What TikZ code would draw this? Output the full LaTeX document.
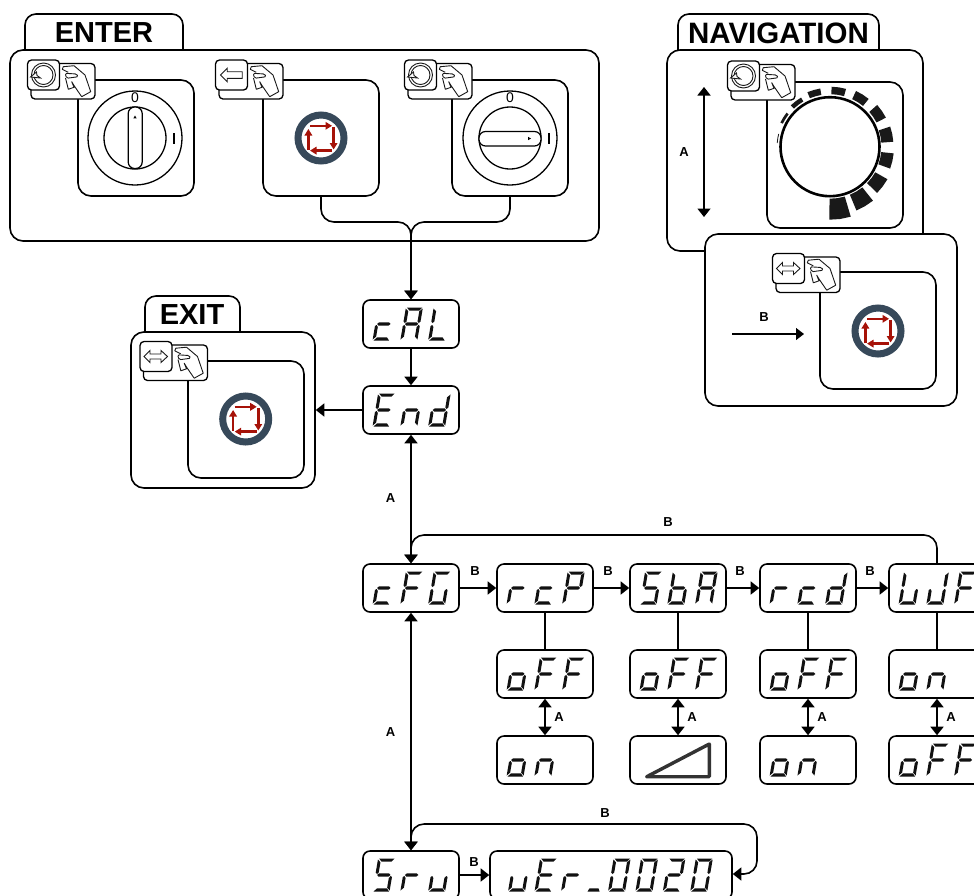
\documentclass[tikz,border=0pt]{standalone}
\usepackage{fontspec}
\setmainfont{Liberation Sans}
\usetikzlibrary{arrows.meta}
\definecolor{ringc}{HTML}{37495A}
\definecolor{redc}{HTML}{A61208}
\definecolor{segc}{HTML}{111111}
\tikzset{
  x=1pt,y=-1pt,
  ln/.style={line width=1.6pt,draw=black},
  panel/.style={ln,fill=white,rounded corners=13pt,inner sep=0pt},
  tabshape/.style={ln,fill=white},
  sub/.style={panel},
  disp/.style={ln,fill=white,rounded corners=7pt,inner sep=0pt,minimum width=96pt,minimum height=48pt,text opacity=0,font=\fontsize{8}{8}\selectfont},
  lab/.style={font=\bfseries\fontsize{13}{13}\selectfont,inner sep=0pt},
  ttl/.style={font=\bfseries\fontsize{29}{29}\selectfont,inner sep=0pt},
  tip/.style={-{Triangle[width=13pt,length=8.5pt]}},
  tips/.style={{Triangle[width=13pt,length=8.5pt]}-{Triangle[width=13pt,length=8.5pt]}},
  conn/.style={ln,rounded corners=13pt},
  thinl/.style={line width=0.9pt,draw=black!90},
}
% seven-segment parts in local (x, -up) coordinates
\def\sga{(1,-33)--(16.5,-33)--(14,-29.9)--(4,-29.9)--cycle}
\def\sgb{(17,-32)--(17,-19)--(15.5,-17.5)--(14,-19)--(14,-29.2)--cycle}
\def\sgc{(17,-14.5)--(17,-1)--(14,-3.9)--(14,-13.5)--(15.5,-15.5)--cycle}
\def\sgd{(1,0)--(16.5,0)--(14,-3.1)--(4,-3.1)--cycle}
\def\sge{(0,-14.5)--(0,-1)--(3,-3.9)--(3,-13.5)--(1.5,-15.5)--cycle}
\def\sgf{(0,-32)--(0,-19)--(1.5,-17.5)--(3,-19)--(3,-29.2)--cycle}
\def\sgg{(1.8,-16.5)--(3.5,-18.1)--(13.5,-18.1)--(15.2,-16.5)--(13.5,-14.9)--(3.5,-14.9)--cycle}
\def\sgh{(0,0)--(12,0)--(10.5,-3.1)--(1.5,-3.1)--cycle}
% characters
\def\chc{d,e,g}\def\chA{a,b,c,e,f,g}\def\chL{d,e,f}\def\chE{a,d,e,f,g}\def\chn{c,e,g}
\def\chd{b,c,d,e,g}\def\chF{a,e,f,g}\def\chG{a,c,d,e,f}\def\chr{e,g}\def\chP{a,b,e,f,g}
\def\chS{a,c,d,f,g}\def\chb{c,d,e,f,g}\def\cho{c,d,e,g}\def\chW{c,d,e,f}\def\chJ{b,c,d,e}
\def\chu{c,d,e}\def\chZ{a,b,c,d,e,f}\def\chT{a,b,d,e,g}\def\chl{h}
\newcommand\drawglyph[3]{%
  \begin{scope}[shift={(#1,#2)},xslant=0.17]
    \edef\seglist{\csname ch#3\endcsname}%
    \foreach \s in \seglist {\fill[segc] \csname sg\s\endcsname;}
  \end{scope}}
% #1 start x, #2 baseline y, #3 step, #4 chars
\newcommand\glyphs[4]{%
  \foreach \c [count=\i from 0] in {#4} {%
    \pgfmathsetmacro\px{#1+\i*#3}%
    \drawglyph{\px}{#2}{\c}%
  }}
% display box: name, left, top, text, glyphs
\newcommand\disp[5]{%
  \node[disp] (#1) at (#2+48,#3+24) {#4};
  \ifx\relax#5\relax\else\glyphs{#2+9.5}{#3+40.5}{27.8}{#5}\fi}
% status icon
\newcommand\status[2]{%
  \begin{scope}[shift={(#1,#2)}]
    \draw[ringc,line width=7pt] (0,0) circle[radius=23pt];
    \begin{scope}[redc,line width=2.5pt,-{Triangle[width=7.5pt,length=6.5pt]}]
      \draw (-11,-12.2) -- (11,-12.2);
      \draw (12.6,-11) -- (12.6,11.5);
      \draw (11,12.6) -- (-11,12.6);
      \draw (-12.6,11.5) -- (-12.6,-9);
    \end{scope}
  \end{scope}}
% hand + button icon: #1 #2 top-left of the back plate, #3 symbol
\newcommand\rotsym{%
  \draw[thinl] (16,15) circle[radius=12pt];
  \draw[thinl] (16,15) circle[radius=9.5pt];
  \draw[thinl,fill=white] (3,17) -- (9,12) -- (9.5,15.5) -- (13,18) -- cycle;}
\newcommand\leftsym{%
  \draw[thinl] (5,15) -- (11.7,8.3) -- (11.7,11.7) -- (26.7,11.7) -- (26.7,18.3) -- (11.7,18.3) -- (11.7,21.7) -- cycle;}
\newcommand\bothsym{%
  \draw[thinl] (4,15) -- (10,9) -- (10,12.5) -- (21,12.5) -- (21,9) -- (27.5,15) -- (21,21) -- (21,17.5) -- (10,17.5) -- (10,21) -- cycle;}
\newcommand\handicon[3]{%
  \begin{scope}[shift={(#1,#2)}]
    \draw[line width=1.3pt,fill=white,rounded corners=4pt] (0,0) rectangle (64,35.5);
    \draw[thinl,line join=round] (50.7,33.2) -- (59.7,28.2) -- (54,11.5) -- (43,2.2) -- (32.3,3.2) -- (31.3,5.8) -- (37.3,8.8);
    \draw[thinl,line join=round,rounded corners=1.5pt] (34,9.8) -- (45.7,10.5) -- (47.3,13.2) -- (35.7,14.8) -- cycle;
    \draw[thinl,line join=round] (34.5,14.5) -- (37.3,25.8) -- (43,23.8) -- (40.7,18.2) -- (43,22) -- (50.7,33.2);
    \begin{scope}[shift={(-3.5,-3.5)}]
      \draw[line width=1.3pt,fill=white,rounded corners=4pt] (0,0) rectangle (32,30);
      #3
    \end{scope}
  \end{scope}}
% dial
\newcommand\dialbase[2]{%
  \draw[ln,line width=1.3pt] (#1,#2) circle[radius=47pt];
  \draw[ln,line width=1.3pt] (#1,#2) circle[radius=31pt];
  \node[inner sep=0pt,font=\fontsize{14}{14}\selectfont,fill=white] at (#1,#2-40) {0};
  \fill (#1+38.2,#2-5.5) rectangle (#1+39.8,#2+5.5);}
% gauge segment: mid angle, half width, inner radius, outer radius
\newcommand\gseg[4]{%
  \fill[black!90] ({830+#3*cos(#1-#2)},{146.7-#3*sin(#1-#2)})
    -- ({830+#3*cos(#1)},{146.7-#3*sin(#1)})
    -- ({830+#3*cos(#1+#2)},{146.7-#3*sin(#1+#2)})
    -- ({830+#4*cos(#1+#2)},{146.7-#4*sin(#1+#2)})
    -- ({830+#4*cos(#1)},{146.7-#4*sin(#1)})
    -- ({830+#4*cos(#1-#2)},{146.7-#4*sin(#1-#2)}) -- cycle;}
\begin{document}
\begin{tikzpicture}
\useasboundingbox (0,0) rectangle (974,895);
\clip (0,0) rectangle (974,895);
\fill[white] (0,0) rectangle (974,895);

% ---------- ENTER
\draw[tabshape,rounded corners=11pt] (25,52) -- (25,14) -- (183,14) -- (183,52);
\node[panel,minimum width=589pt,minimum height=191pt] (enter) at (304.5,145.5) {};
\node[ttl] (entertitle) at (104,33) {ENTER};
\node[sub,minimum width=116pt,minimum height=116pt] (e1) at (136,138) {};
\node[sub,minimum width=116pt,minimum height=116pt] (e2) at (321,138) {};
\node[sub,minimum width=116pt,minimum height=116pt] (e3) at (510,138) {};
\dialbase{135}{138}
\draw[ln,line width=1.2pt,fill=white,rounded corners=6.5pt] (128.2,107) rectangle (142.2,168.5);
\fill (135,115.5) -- (136.6,118.3) -- (133.4,118.3) -- cycle;
\status{321}{138}
\dialbase{510}{138}
\draw[ln,line width=1.2pt,fill=white,rounded corners=6.5pt] (479,131.5) rectangle (541,146);
\fill (531,138.5) -- (528.2,136.9) -- (528.2,140.1) -- cycle;
\handicon{31}{63.5}{\rotsym}
\handicon{219}{63.5}{\leftsym}
\handicon{408}{63.5}{\rotsym}

% ---------- NAVIGATION
\draw[tabshape,rounded corners=11pt] (678,52) -- (678,14) -- (879,14) -- (879,52);
\node[panel,minimum width=256pt,minimum height=201pt] (nav) at (795,150.5) {};
\node[ttl,font=\bfseries\fontsize{29.5}{29.5}\selectfont] (navtitle) at (778.5,33) {NAVIGATION};
\node[sub,minimum width=136pt,minimum height=146pt] (navsub) at (835,155) {};
\coordinate (atop) at (704,87);
\coordinate (abot) at (704,217);
\draw[ln,tips] (atop) -- (abot);
\node[lab] (la0) at (684,152) {A};
\draw[line width=2.6pt] (830,146.7) circle[radius=49.5pt];
\gseg{171}{5}{52.5}{53.3}
\gseg{148}{6}{52.5}{55.2}
\gseg{127}{6.5}{52.5}{57}
\gseg{106}{6.5}{52.5}{59}
\gseg{81.5}{7}{52.5}{60}
\gseg{58}{7}{52.5}{61.5}
\gseg{34.5}{7}{52.5}{63}
\gseg{11.5}{7}{51.5}{63.5}
\gseg{-13}{7}{51.5}{64}
\gseg{-37}{7.5}{52}{66}
\gseg{-59.5}{8}{52}{69}
\gseg{-82}{8.5}{52}{73}
\handicon{731}{64.5}{\rotsym}

\node[panel,minimum width=252pt,minimum height=172pt] (navb) at (831,320) {};
\node[sub,minimum width=116pt,minimum height=117pt] (bsub) at (878,330.5) {};
\status{878}{331}
\handicon{776}{257}{\bothsym}
\coordinate (bl) at (732,334);
\coordinate (br) at (804,334);
\draw[ln,line width=1.2pt,-{Triangle[width=12pt,length=8pt]}] (bl) -- (br);
\node[lab] (lb0) at (764,317) {B};

% ---------- EXIT
\draw[tabshape,rounded corners=11pt] (145,334) -- (145,296) -- (240,296) -- (240,334);
\node[panel,minimum width=184pt,minimum height=156pt] (exit) at (223,410) {};
\node[ttl] (exittitle) at (192,315) {EXIT};
\node[sub,minimum width=116pt,minimum height=117pt] (exitsub) at (246,419.5) {};
\status{245.7}{419}
\handicon{143.5}{345}{\bothsym}

% ---------- displays
\disp{cal}{363}{300}{cAL}{c,A,L}
\disp{end}{363}{386}{End}{E,n,d}
\disp{cfg}{363}{564}{cFG}{c,F,G}
\disp{rcp}{497}{564}{rcP}{r,c,P}
\disp{sba}{630}{564}{SbA}{S,b,A}
\disp{rcd}{760}{564}{rcd}{r,c,d}
\disp{wf}{889}{564}{LJF}{W,J,F}
\disp{off1}{497}{650}{oFF}{o,F,F}
\disp{off2}{630}{650}{oFF}{o,F,F}
\disp{off3}{760}{650}{oFF}{o,F,F}
\disp{on4}{889}{650}{on}{o,n}
\disp{on1}{497}{736}{on}{o,n}
\disp{ramp}{630}{736}{}{}
\disp{on3}{760}{736}{on}{o,n}
\disp{off4}{889}{736}{oFF}{o,F,F}
\disp{srv}{363}{851}{Sru}{S,r,u}
\node[disp,minimum width=242pt] (ver) at (611,875) {vEr\_0020};
\glyphs{508}{891.5}{26.5}{u,E,r,l}
\glyphs{608}{891.5}{27.4}{Z,Z,T,Z}
\draw[line width=3.4pt,draw=black!80,line join=round] (646.7,776.7) -- (709.3,744) -- (709.3,776.7) -- cycle;

% ---------- connectors
\coordinate (j) at (411,222);
\draw[conn,tip] (e2.south) |- (j) -- (cal.north);
\draw[conn,tip] (e3.south) |- (j) -- (cal.north);
\draw[ln,tip] (cal) -- (end);
\draw[ln,tip] (end) -- (exit);
\draw[ln,tips] (end) -- (cfg);
\draw[ln,tips] (cfg) -- (srv);
\draw[ln,tip] (cfg) -- (rcp);
\draw[ln,tip] (rcp) -- (sba);
\draw[ln,tip] (sba) -- (rcd);
\draw[ln,tip] (rcd) -- (wf);
\draw[ln,tip] (srv.east |- ver.west) -- (ver.west);
\coordinate (ta) at (937,535);
\coordinate (tb) at (411,535);
\draw[conn,tip] (wf.north -| ta) -- (ta) -- (tb) -- (cfg.north);
\coordinate (lr) at (757,874);
\coordinate (ur) at (757,824);
\coordinate (ul) at (411,824);
\coordinate (vr) at (ver.east |- lr);
\draw[conn,tips] (vr) -- (lr) -- (ur) -- (ul) -- (srv.north);
\draw[ln] (rcp) -- (off1);
\draw[ln] (sba) -- (off2);
\draw[ln] (rcd) -- (off3);
\draw[ln] (wf) -- (on4);
\draw[ln,tips] (off1) -- (on1);
\draw[ln,tips] (off2) -- (ramp);
\draw[ln,tips] (off3) -- (on3);
\draw[ln,tips] (on4) -- (off4);

% ---------- labels
\node[lab] (l1) at (390.5,498) {A};
\node[lab] (l2) at (390.5,732) {A};
\node[lab] (l3) at (668,522) {B};
\node[lab] (l4) at (475,571) {B};
\node[lab] (l5) at (608,571) {B};
\node[lab] (l6) at (740,571) {B};
\node[lab] (l7) at (870,571) {B};
\node[lab] (l8) at (474,862) {B};
\node[lab] (l9) at (605,813) {B};
\node[lab] (l10) at (559,717) {A};
\node[lab] (l11) at (692,717) {A};
\node[lab] (l12) at (822,717) {A};
\node[lab] (l13) at (951,717) {A};
\end{tikzpicture}
\end{document}
